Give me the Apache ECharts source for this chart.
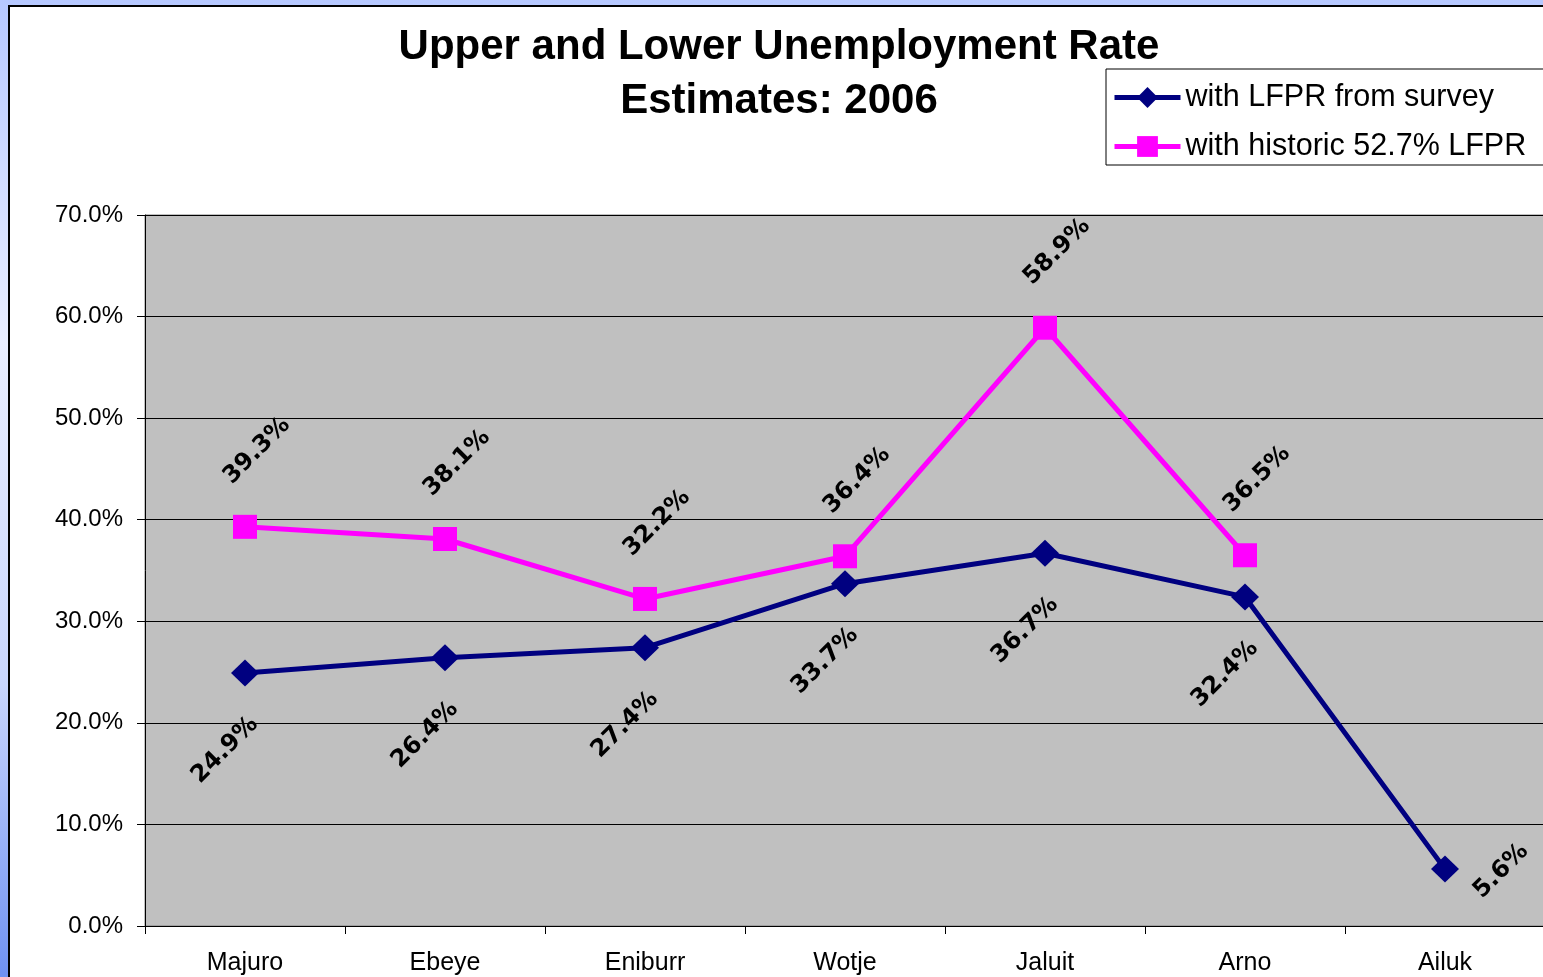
<!DOCTYPE html>
<html>
<head>
<meta charset="utf-8">
<script src="https://cdn.jsdelivr.net/npm/echarts@6/dist/echarts.min.js"></script>
<style>
  html, body { margin: 0; padding: 0; width: 1543px; height: 977px; overflow: hidden; }
  body { background: linear-gradient(to bottom, #b6c8ff 0%, #e9eeff 35%, #c9d6fd 70%, #6f91f2 100%); position: relative; }
  #frame { position: absolute; left: 8px; top: 5px; width: 1560px; height: 990px; background: #fff; border-left: 2px solid #000; border-top: 2px solid #000; }
  #chart { width: 1538px; height: 975px; }
</style>
</head>
<body>
<div id="frame"><div id="chart"></div></div>
<script>
// données
const categories = ['Majuro', 'Ebeye', 'Eniburr', 'Wotje', 'Jaluit', 'Arno', 'Ailuk'];
const surveyRate = [24.9, 26.4, 27.4, 33.7, 36.7, 32.4, 5.6];
const historicRate = [39.3, 38.1, 32.2, 36.4, 58.9, 36.5, null];
const yTicks = [0, 10, 20, 30, 40, 50, 60, 70];

const chart = echarts.init(document.getElementById('chart'));

const labelFont = { fontFamily: 'DejaVu Sans', fontWeight: 'bold', fontSize: 24, color: '#000' };

// le décalage des étiquettes est appliqué dans le repère tourné de 45°
function rotOffset(dx, dy) {
  return [(dx - dy) / Math.SQRT2, (dx + dy) / Math.SQRT2];
}

// étiquettes sous la courbe bleue, sauf le dernier point (à droite)
const surveyData = surveyRate.map((v, i) => {
  if (historicRate[i] === null) {
    return { value: v, label: { offset: rotOffset(56, 2) } };
  }
  return v;
});

const options = {
  animation: false,
  title: {
    text: 'Upper and Lower Unemployment Rate\nEstimates: 2006',
    left: 'center',
    top: 8,
    textStyle: { fontFamily: 'Liberation Sans', fontWeight: 'bold', fontSize: 42, lineHeight: 54, color: '#000' }
  },
  legend: {
    orient: 'vertical',
    left: 1096,
    top: 62,
    align: 'left',
    padding: [13, 40, 3, 6],
    itemGap: 18,
    itemWidth: 66,
    itemHeight: 26,
    borderColor: '#000',
    borderWidth: 1,
    backgroundColor: '#fff',
    lineStyle: { width: 5 },
    textStyle: { fontFamily: 'Liberation Sans', fontSize: 30.5, color: '#000' },
    data: ['with LFPR from survey', 'with historic 52.7% LFPR']
  },
  grid: {
    left: 135,
    top: 208,
    width: 1400,
    height: 711,
    show: true,
    backgroundColor: '#c0c0c0',
    borderColor: '#808080',
    borderWidth: 1
  },
  xAxis: {
    type: 'category',
    data: categories,
    boundaryGap: true,
    axisLine: { lineStyle: { color: '#000', width: 1 } },
    axisTick: { show: true, length: 8, lineStyle: { color: '#000' } },
    axisLabel: { fontFamily: 'Liberation Sans', fontSize: 25, color: '#000', margin: 25 }
  },
  yAxis: {
    type: 'value',
    min: yTicks[0],
    max: yTicks[yTicks.length - 1],
    interval: 10,
    axisLine: { show: true, lineStyle: { color: '#000', width: 1 } },
    axisTick: { show: true, length: 8, lineStyle: { color: '#000' } },
    splitLine: { lineStyle: { color: '#000', width: 1 } },
    axisLabel: {
      fontFamily: 'Liberation Sans', fontSize: 24, color: '#000', margin: 22,
      formatter: v => v.toFixed(1) + '%'
    }
  },
  series: [
    {
      name: 'with LFPR from survey',
      type: 'line',
      data: surveyData,
      symbol: 'diamond',
      symbolSize: [28, 27],
      lineStyle: { color: '#000080', width: 5 },
      itemStyle: { color: '#000080' },
      label: {
        show: true, position: 'inside', rotate: 45, offset: rotOffset(-20, 77),
        align: 'center', verticalAlign: 'middle',
        formatter: p => p.value.toFixed(1) + '%',
        ...labelFont
      },
      z: 3
    },
    {
      name: 'with historic 52.7% LFPR',
      type: 'line',
      data: historicRate,
      symbol: 'rect',
      symbolSize: 24,
      lineStyle: { color: '#ff00ff', width: 5 },
      itemStyle: { color: '#ff00ff' },
      label: {
        show: true, position: 'inside', rotate: 45, offset: rotOffset(12, -76),
        align: 'center', verticalAlign: 'middle',
        formatter: p => p.value.toFixed(1) + '%',
        ...labelFont
      },
      z: 2
    }
  ]
};

chart.setOption(options);
</script>
</body>
</html>
